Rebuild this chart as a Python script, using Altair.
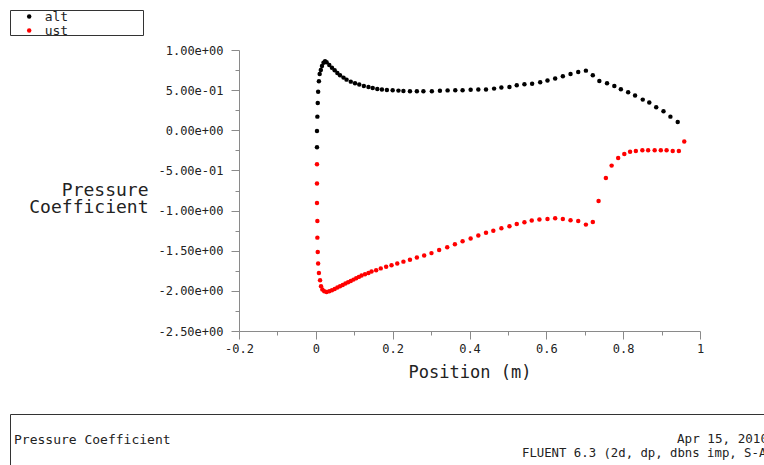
import json
import altair as alt
import pandas as pd

# ---------------- data ----------------
series_names = ["alt", "ust"]
series_colors = ["#000000", "#ff0000"]

alt_x = [0.003, 0.003, 0.004, 0.005, 0.006, 0.008, 0.010, 0.013, 0.016, 0.020,
         0.024, 0.028, 0.035, 0.042, 0.049, 0.056, 0.063, 0.072, 0.080, 0.091,
         0.102, 0.113, 0.125, 0.137, 0.148, 0.160, 0.172, 0.185, 0.200, 0.215,
         0.228, 0.245, 0.263, 0.280, 0.302, 0.323, 0.343, 0.363, 0.382, 0.403,
         0.423, 0.443, 0.464, 0.483, 0.504, 0.523, 0.543, 0.563, 0.584, 0.603,
         0.623, 0.643, 0.663, 0.683, 0.703, 0.721, 0.738, 0.758, 0.777, 0.794,
         0.813, 0.831, 0.851, 0.868, 0.886, 0.905, 0.923, 0.942]
alt_y = [-0.21, -0.01, 0.17, 0.34, 0.48, 0.61, 0.70, 0.75, 0.80, 0.84,
         0.86, 0.847, 0.813, 0.78, 0.747, 0.714, 0.685, 0.656, 0.631, 0.606,
         0.585, 0.569, 0.552, 0.539, 0.527, 0.514, 0.507, 0.502, 0.498, 0.494,
         0.49, 0.487, 0.486, 0.486, 0.487, 0.493, 0.497, 0.499, 0.500, 0.505,
         0.507, 0.509, 0.519, 0.532, 0.54, 0.56, 0.573, 0.581, 0.598, 0.619,
         0.644, 0.672, 0.701, 0.726, 0.743, 0.685, 0.614, 0.585, 0.552, 0.511,
         0.473, 0.432, 0.382, 0.345, 0.286, 0.237, 0.17, 0.103]

ust_x = [0.003, 0.003, 0.003, 0.004, 0.004, 0.005, 0.006, 0.008, 0.011, 0.0135,
         0.017, 0.022, 0.028, 0.035, 0.042, 0.049, 0.056, 0.063, 0.070, 0.077,
         0.084, 0.091, 0.098, 0.105, 0.112, 0.119, 0.128, 0.137, 0.145, 0.157,
         0.169, 0.183, 0.197, 0.212, 0.228, 0.245, 0.263, 0.282, 0.301, 0.321,
         0.342, 0.362, 0.382, 0.403, 0.423, 0.443, 0.462, 0.483, 0.504, 0.523,
         0.543, 0.562, 0.582, 0.603, 0.623, 0.643, 0.663, 0.683, 0.703, 0.721,
         0.736, 0.755, 0.770, 0.787, 0.803, 0.818, 0.833, 0.850, 0.865, 0.882,
         0.898, 0.913, 0.929, 0.945, 0.959]
ust_y = [-0.423, -0.664, -0.905, -1.13, -1.337, -1.515, -1.66, -1.777, -1.868, -1.943,
         -1.984, -2.005, -2.013, -2.005, -1.993, -1.976, -1.959, -1.943, -1.926, -1.909,
         -1.893, -1.876, -1.86, -1.843, -1.826, -1.81, -1.793, -1.777, -1.76, -1.743,
         -1.72, -1.70, -1.68, -1.66, -1.636, -1.612, -1.585, -1.56, -1.53, -1.49,
         -1.457, -1.42, -1.382, -1.347, -1.31, -1.277, -1.25, -1.22, -1.194, -1.167,
         -1.145, -1.125, -1.112, -1.104, -1.096, -1.104, -1.121, -1.129, -1.175, -1.141,
         -0.88, -0.594, -0.44, -0.345, -0.295, -0.266, -0.258, -0.249, -0.249, -0.249,
         -0.249, -0.249, -0.258, -0.258, -0.141]

y_major = [1.0, 0.5, 0.0, -0.5, -1.0, -1.5, -2.0, -2.5]
y_major_labels = ["1.00e+00", "5.00e-01", "0.00e+00", "-5.00e-01",
                  "-1.00e+00", "-1.50e+00", "-2.00e+00", "-2.50e+00"]
y_minor = [0.75, 0.25, -0.25, -0.75, -1.25, -1.75, -2.25]

x_major = [-0.2, 0.0, 0.2, 0.4, 0.6, 0.8, 1.0]
x_major_labels = ["-0.2", "0", "0.2", "0.4", "0.6", "0.8", "1"]
x_minor = [-0.1, 0.1, 0.3, 0.5, 0.7, 0.9]

x_title = "Position (m)"
y_title = ["Pressure", "Coefficient"]
footer_left = "Pressure Coefficient"
footer_date = "Apr 15, 2010"
footer_version = "FLUENT 6.3 (2d, dp, dbns imp, S-A)"

# ---------------- build ----------------
df = pd.concat([
    pd.DataFrame({"series": "alt", "x": alt_x, "y": alt_y}),
    pd.DataFrame({"series": "ust", "x": ust_x, "y": ust_y}),
], ignore_index=True)

MONO = "DejaVu Sans Mono"
TXT = "#222222"
AXC = "#8a8a8a"

W, H = 461, 281
PL, PT = 239, 50


def label_expr(values, labels):
    parts = [f"datum.value == {v!r} ? '{l}' : " for v, l in zip(values, labels)]
    return "".join(parts) + "''"


def tick_size(major):
    return {"condition": {"test": f"indexof({json.dumps(major)}, datum.value) >= 0",
                          "value": 8}, "value": 4}


x_axis = alt.Axis(
    values=sorted(x_major + x_minor), labelExpr=label_expr(x_major, x_major_labels),
    title=x_title, titleFont=MONO, titleFontSize=17, titleFontWeight="normal",
    titleColor=TXT, titleX=W / 2, titleY=41, titleBaseline="middle",
    labelFont=MONO, labelFontSize=12, labelColor=TXT, labelPadding=4,
    labelFlush=False, labelOverlap=False,
    domainColor=AXC, tickColor=AXC, tickSize=tick_size(x_major), grid=False,
)
y_axis = alt.Axis(
    values=sorted(y_major + y_minor), labelExpr=label_expr(y_major, y_major_labels),
    title=y_title, titleFont=MONO, titleFontSize=18, titleFontWeight="normal",
    titleColor=TXT, titleAngle=0, titleAlign="right", titleBaseline="middle",
    titleX=148 - PL, titleY=190 - PT, titleLineHeight=17,
    labelFont=MONO, labelFontSize=12, labelColor=TXT, labelPadding=8,
    labelFlush=False, labelOverlap=False,
    domainColor=AXC, tickColor=AXC, tickSize=tick_size(y_major), grid=False,
)

points = alt.Chart(df).mark_circle(size=20, opacity=1).encode(
    x=alt.X("x:Q", scale=alt.Scale(domain=[-0.2, 1.0], nice=False, zero=False), axis=x_axis),
    y=alt.Y("y:Q", scale=alt.Scale(domain=[-2.5, 1.0], nice=False, zero=False), axis=y_axis),
    color=alt.Color("series:N", scale=alt.Scale(domain=series_names, range=series_colors),
                    legend=alt.Legend(title=None, orient="none", legendX=25 - 2.3 - PL,
                                      legendY=10 - PT, symbolType="circle", symbolSize=20,
                                      labelFont=MONO, labelFontSize=13, labelColor=TXT,
                                      rowPadding=-1, labelOffset=9, padding=0,
                                      symbolStrokeWidth=0)),
)

one = alt.Data(values=[{}])

legend_box = alt.Chart(one).mark_rect(filled=False, stroke="#333333", strokeWidth=1).encode(
    x=alt.value(10.5 - PL), x2=alt.value(143.5 - PL), y=alt.value(10.5 - PT), y2=alt.value(35.5 - PT))

footer_h = alt.Chart(one).mark_rule(color="#333333", strokeWidth=1).encode(
    x=alt.value(10.5 - PL), x2=alt.value(764 - PL), y=alt.value(414.5 - PT))
footer_v = alt.Chart(one).mark_rule(color="#333333", strokeWidth=1).encode(
    x=alt.value(10.5 - PL), y=alt.value(414.5 - PT), y2=alt.value(465 - PT))

t_left = alt.Chart(one).mark_text(text=footer_left, align="left", baseline="middle",
                                  font=MONO, fontSize=13, color=TXT).encode(
    x=alt.value(14 - PL), y=alt.value(440 - PT))
t_date = alt.Chart(one).mark_text(text=footer_date, align="left", baseline="middle",
                                  font=MONO, fontSize=12.6, color=TXT).encode(
    x=alt.value(677 - PL), y=alt.value(439 - PT))
t_ver = alt.Chart(one).mark_text(text=footer_version, align="left", baseline="middle",
                                 font=MONO, fontSize=12.3, color=TXT).encode(
    x=alt.value(522 - PL), y=alt.value(453 - PT))

chart = alt.layer(legend_box, footer_h, footer_v, t_left, t_date, t_ver, points).properties(
    width=W, height=H,
    autosize=alt.AutoSizeParams(type="none"),
    padding={"left": PL, "top": PT, "right": 764 - PL - W, "bottom": 465 - PT - H},
    background="white",
).configure_view(stroke=None)

chart.save("out.html", embed_options={"renderer": "svg", "actions": False})
